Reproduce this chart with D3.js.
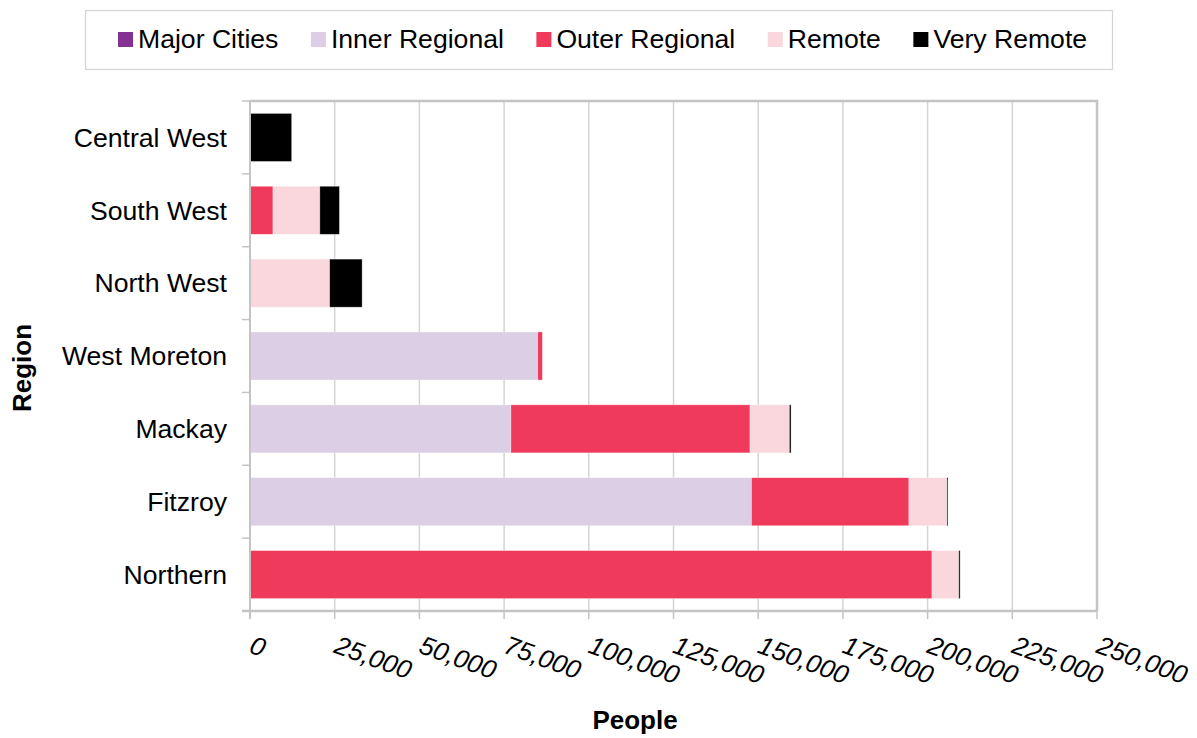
<!DOCTYPE html>
<html>
<head>
<meta charset="utf-8">
<script src="https://cdn.jsdelivr.net/npm/d3@7"></script>
<style>
  html, body { margin: 0; padding: 0; background: #fff; }
  svg { display: block; font-family: "Liberation Sans", Arial, sans-serif; }
</style>
</head>
<body>
<svg id="chart" width="1197" height="738"></svg>
<script>
// Population by remoteness area for each region
const categories = ["Central West", "South West", "North West", "West Moreton", "Mackay", "Fitzroy", "Northern"];
const seriesNames = ["Major Cities", "Inner Regional", "Outer Regional", "Remote", "Very Remote"];
const seriesColors = ["#833193", "#DCCFE5", "#EF3A5B", "#F9D7DD", "#000000"];

const majorCities   = [0, 0, 0, 0, 0, 0, 0];
const innerRegional = [0, 0, 0, 84900, 77000, 148000, 0];
const outerRegional = [0, 6800, 0, 1400, 70600, 46500, 201300];
const remote        = [0, 13800, 23500, 0, 11600, 11200, 7900];
const veryRemote    = [12300, 5800, 9600, 0, 500, 300, 400];

const xTicks = [0, 25000, 50000, 75000, 100000, 125000, 150000, 175000, 200000, 225000, 250000];

const seriesValues = [majorCities, innerRegional, outerRegional, remote, veryRemote];
const rows = categories.map((c, i) => {
  const r = { region: c };
  seriesNames.forEach((s, k) => { r[s] = seriesValues[k][i]; });
  return r;
});

const svg = d3.select("#chart");
const plot = { left: 250, right: 1097, top: 101, bottom: 611 };
const fontSize = 26.6;

const x = d3.scaleLinear().domain([0, 250000]).range([plot.left, plot.right]);
const y = d3.scaleBand().domain(categories).range([plot.top, plot.bottom])
  .paddingInner(0.34).paddingOuter(0.17);

// vertical gridlines
svg.append("g").selectAll("line").data(xTicks.slice(1, -1)).join("line")
  .attr("x1", d => x(d)).attr("x2", d => x(d))
  .attr("y1", plot.top).attr("y2", plot.bottom)
  .attr("stroke", "#d4d4d4").attr("stroke-width", 1.5);

// plot frame (top and right)
svg.append("path")
  .attr("d", `M${plot.left},${plot.top}H${plot.right}V${plot.bottom}`)
  .attr("fill", "none").attr("stroke", "#c4c4c4").attr("stroke-width", 2.5);

// stacked bars
const stack = d3.stack().keys(seriesNames);
const layers = stack(rows);
svg.append("g").selectAll("g").data(layers).join("g")
  .attr("fill", (d, i) => seriesColors[i])
  .selectAll("rect").data(d => d).join("rect")
  .attr("x", d => x(d[0]))
  .attr("width", d => Math.max(0, x(d[1]) - x(d[0])))
  .attr("y", d => y(d.data.region))
  .attr("height", y.bandwidth())
  .attr("stroke", d => (d[1] - d[0]) > 0 ? "rgba(255,255,255,0.45)" : "none")
  .attr("stroke-width", 0.8);

// y axis
const yAxisG = svg.append("g");
yAxisG.append("line")
  .attr("x1", plot.left).attr("x2", plot.left)
  .attr("y1", plot.top).attr("y2", plot.bottom + 8)
  .attr("stroke", "#c4c4c4").attr("stroke-width", 2);
const boundaries = d3.range(categories.length + 1).map(i => plot.top + i * (plot.bottom - plot.top) / categories.length);
yAxisG.selectAll("line.tick").data(boundaries).join("line")
  .attr("class", "tick")
  .attr("x1", plot.left - 8).attr("x2", plot.left)
  .attr("y1", d => d).attr("y2", d => d)
  .attr("stroke", "#c4c4c4").attr("stroke-width", 1.5);
yAxisG.selectAll("text").data(categories).join("text")
  .attr("x", 227)
  .attr("y", d => y(d) + y.bandwidth() / 2)
  .attr("dy", "0.35em")
  .attr("text-anchor", "end")
  .attr("font-size", fontSize)
  .attr("fill", "#000")
  .text(d => d);

// x axis
const xAxisG = svg.append("g");
xAxisG.append("line")
  .attr("x1", plot.left - 8).attr("x2", plot.right)
  .attr("y1", plot.bottom).attr("y2", plot.bottom)
  .attr("stroke", "#c4c4c4").attr("stroke-width", 2.5);
xAxisG.selectAll("line.tick").data(xTicks).join("line")
  .attr("class", "tick")
  .attr("x1", d => x(d)).attr("x2", d => x(d))
  .attr("y1", plot.bottom).attr("y2", plot.bottom + 8)
  .attr("stroke", "#c4c4c4").attr("stroke-width", 1.5);
const fmt = d3.format(",");
xAxisG.selectAll("text").data(xTicks).join("text")
  .attr("transform", d => `translate(${x(d)},653) rotate(20)`)
  .attr("x", -2)
  .attr("text-anchor", "start")
  .attr("font-size", 26)
  .attr("font-style", "italic")
  .attr("fill", "#000")
  .text(d => fmt(d));

// axis titles
svg.append("text")
  .attr("x", 635).attr("y", 729)
  .attr("text-anchor", "middle")
  .attr("font-size", 26).attr("font-weight", "bold")
  .text("People");
svg.append("text")
  .attr("transform", "translate(31,368) rotate(-90)")
  .attr("text-anchor", "middle")
  .attr("font-size", 26).attr("font-weight", "bold")
  .text("Region");

// legend
const legend = svg.append("g");
legend.append("rect")
  .attr("x", 85.5).attr("y", 10.5).attr("width", 1027).attr("height", 59)
  .attr("fill", "#fff").attr("stroke", "#d4d4d4").attr("stroke-width", 1.2);
let lx = 118;
seriesNames.forEach((name, i) => {
  legend.append("rect")
    .attr("x", lx).attr("y", 32).attr("width", 15).attr("height", 15)
    .attr("fill", seriesColors[i]);
  const t = legend.append("text")
    .attr("x", lx + 20).attr("y", 39).attr("dy", "0.35em")
    .attr("font-size", fontSize).attr("fill", "#000")
    .text(name);
  lx += 20 + t.node().getComputedTextLength() + 32.5;
});
</script>
</body>
</html>
